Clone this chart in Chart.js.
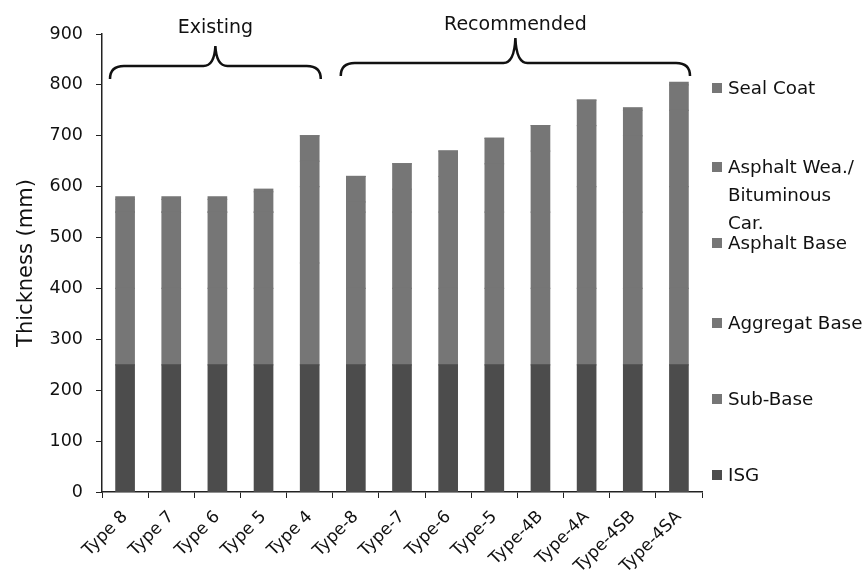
<!DOCTYPE html>
<html>
<head>
<meta charset="utf-8">
<script src="https://cdn.jsdelivr.net/npm/chart.js@4/dist/chart.umd.min.js"></script>
<style>
  html, body { margin: 0; padding: 0; background: #fff; }
  #wrap { position: relative; width: 868px; height: 582px; }
  #legend { position: absolute; left: 712px; top: 0; font-family: "DejaVu Sans", sans-serif; font-size: 18.3px; color: #111; }
  #legend .item { position: absolute; left: 0; white-space: nowrap; line-height: 28px; }
  #legend .box { display: inline-block; width: 10px; height: 10px; margin-right: 6px; vertical-align: 1px; }
</style>
</head>
<body>
<div id="wrap">
  <canvas id="chart" width="868" height="582"></canvas>
  <div id="legend"></div>
</div>
<script>
// pavement types, existing then recommended
const types = ["Type 8", "Type 7", "Type 6", "Type 5", "Type 4",
  "Type-8", "Type-7", "Type-6", "Type-5", "Type-4B", "Type-4A", "Type-4SB", "Type-4SA"];

// layer thickness (mm)
const isg = [250, 250, 250, 250, 250, 250, 250, 250, 250, 250, 250, 250, 250];
const subBase = [150, 150, 150, 150, 200, 150, 150, 150, 150, 150, 150, 150, 150];
const aggregatBase = [150, 150, 150, 150, 150, 150, 150, 150, 150, 150, 200, 150, 200];
const asphaltBase = [0, 0, 0, 0, 50, 20, 45, 70, 95, 120, 120, 150, 150];
const asphaltWea = [25, 25, 25, 40, 50, 50, 50, 50, 50, 50, 50, 50, 50];
const sealCoat = [5, 5, 5, 5, 0, 0, 0, 0, 0, 0, 0, 5, 5];

const yTicks = [0, 100, 200, 300, 400, 500, 600, 700, 800, 900];

const FONT = "'DejaVu Sans', sans-serif";

// braces over the two groups
const braces = [
  { text: "Existing", from: 0, to: 4 },
  { text: "Recommended", from: 5, to: 12 }
];

const bracePlugin = {
  id: "braces",
  afterDraw(chart) {
    const ctx = chart.ctx;
    const x = chart.scales.x;
    ctx.save();
    ctx.strokeStyle = "#111";
    ctx.lineWidth = 2.5;
    ctx.fillStyle = "#111";
    ctx.font = "19px " + FONT;
    ctx.textAlign = "center";
    ctx.textBaseline = "middle";
    braces.forEach((b, i) => {
      const half = (x.getPixelForValue(1) - x.getPixelForValue(0)) / 2;
      const x0 = x.getPixelForValue(b.from) - half + 8;
      const x1 = x.getPixelForValue(b.to) + half - 12;
      const mid = (x0 + x1) / 2;
      const yLine = i === 0 ? 66 : 63;
      const yTip = i === 0 ? 46 : 38;
      ctx.beginPath();
      ctx.moveTo(x0, yLine + 13);
      ctx.quadraticCurveTo(x0, yLine, x0 + 14, yLine);
      ctx.lineTo(mid - 12, yLine);
      ctx.quadraticCurveTo(mid - 1, yLine, mid, yTip);
      ctx.quadraticCurveTo(mid + 1, yLine, mid + 12, yLine);
      ctx.lineTo(x1 - 14, yLine);
      ctx.quadraticCurveTo(x1, yLine, x1, yLine + 13);
      ctx.stroke();
      ctx.fillText(b.text, mid, i === 0 ? 28 : 25);
    });
    ctx.restore();
  }
};

const layers = [
  { label: "ISG", data: isg, color: "#4c4c4c" },
  { label: "Sub-Base", data: subBase, color: "#767676" },
  { label: "Aggregat Base", data: aggregatBase, color: "#767676" },
  { label: "Asphalt Base", data: asphaltBase, color: "#767676" },
  { label: "Asphalt Wea./\nBituminous\nCar.", data: asphaltWea, color: "#767676" },
  { label: "Seal Coat", data: sealCoat, color: "#767676" }
];

new Chart(document.getElementById("chart"), {
  type: "bar",
  data: {
    labels: types,
    datasets: layers.map(l => ({
      label: l.label,
      data: l.data,
      backgroundColor: l.color,
      borderWidth: 0,
      inflateAmount: 0.6,
      categoryPercentage: 1,
      barPercentage: 0.4
    }))
  },
  options: {
    responsive: false,
    animation: false,
    layout: { padding: { top: 34, right: 166, left: 0, bottom: 0 } },
    plugins: { legend: { display: false }, tooltip: { enabled: false } },
    scales: {
      x: {
        stacked: true,
        border: { color: "#222", width: 1.5 },
        grid: { display: true, drawOnChartArea: false, tickLength: 6, color: "#222" },
        ticks: { color: "#111", font: { family: FONT, size: 17 }, minRotation: 45, maxRotation: 45, padding: 9 },
        afterFit(s) { s.height = 90; }
      },
      y: {
        stacked: true,
        min: 0,
        max: 900,
        afterBuildTicks(s) { s.ticks = yTicks.map(v => ({ value: v })); },
        border: { color: "#222", width: 1.5 },
        grid: { display: true, drawOnChartArea: false, tickLength: 6, color: "#222" },
        ticks: { color: "#111", font: { family: FONT, size: 17.5 }, padding: 13 },
        title: { display: true, text: "Thickness (mm)", color: "#111", font: { family: FONT, size: 21 }, padding: { top: 14, bottom: 0 } },
        afterFit(s) { s.width = 102; }
      }
    }
  },
  plugins: [bracePlugin]
});

// legend on the right, top layer first, spaced like the original
const legendY = [88, 167, 243, 323, 399, 475];
const legend = document.getElementById("legend");
layers.slice().reverse().forEach((l, i) => {
  const lines = l.label.split("\n");
  const item = document.createElement("div");
  item.className = "item";
  item.style.top = (legendY[i] - 14) + "px";
  item.innerHTML = lines.map((t, k) =>
    (k === 0 ? '<span class="box" style="background:' + l.color + '"></span>' :
      '<span class="box" style="visibility:hidden"></span>') + t).join("<br>");
  legend.appendChild(item);
});
</script>
</body>
</html>
